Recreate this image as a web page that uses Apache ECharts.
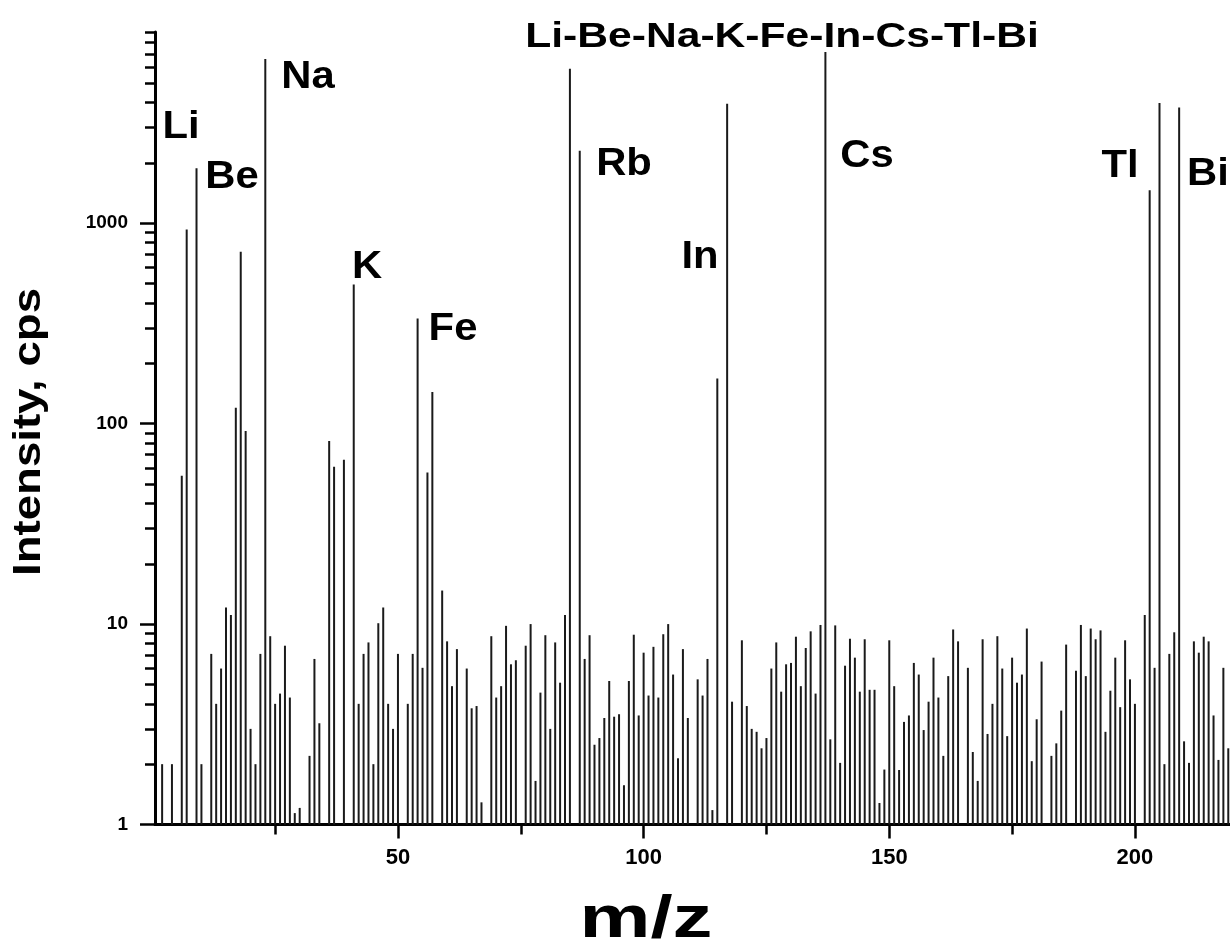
<!DOCTYPE html>
<html><head><meta charset="utf-8">
<script src="https://cdn.jsdelivr.net/npm/echarts@6/dist/echarts.min.js"></script>
<style>html,body{margin:0;padding:0;background:#fff}#c{width:1230px;height:951px}</style>
</head><body><div id="c"></div>
<script>
const mz = [2,4,6,7,9,10,12,13,14,15,16,17,18,19,20,21,22,23,24,25,26,27,28,29,30,32,33,34,36,37,39,41,42,43,44,45,46,47,48,49,50,52,53,54,55,56,57,59,60,61,62,64,65,66,67,69,70,71,72,73,74,76,77,78,79,80,81,82,83,84,85,87,88,89,90,91,92,93,94,95,96,97,98,99,100,101,102,103,104,105,106,107,108,109,111,112,113,114,115,117,118,120,121,122,123,124,125,126,127,128,129,130,131,132,133,134,135,136,137,138,139,140,141,142,143,144,145,146,147,148,149,150,151,152,153,154,155,156,157,158,159,160,161,162,163,164,166,167,168,169,170,171,172,173,174,175,176,177,178,179,180,181,183,184,185,186,188,189,190,191,192,193,194,195,196,197,198,199,200,202,203,204,205,206,207,208,209,210,211,212,213,214,215,216,217,218,219];
const intensity = [2.0,2.0,55,930,1880,2.0,7.1,4.0,6.0,12.1,11.1,120,720,92,3.0,2.0,7.1,6600,8.7,4.0,4.5,7.8,4.3,1.14,1.21,2.2,6.7,3.2,82,61,66,495,4.0,7.1,8.1,2.0,10.1,12.1,4.0,3.0,7.1,4.0,7.1,335,6.05,57,144,14.7,8.2,4.9,7.5,6.0,3.8,3.9,1.29,8.7,4.3,4.9,9.8,6.3,6.6,7.8,10.0,1.65,4.55,8.8,3.0,8.1,5.1,11.1,5900,2300,6.7,8.8,2.5,2.7,3.4,5.2,3.45,3.55,1.57,5.2,8.85,3.5,7.2,4.4,7.7,4.3,8.9,10.0,5.6,2.14,7.5,3.4,5.3,4.4,6.7,1.18,168,3950,4.1,8.3,3.9,3.0,2.9,2.4,2.7,6.0,8.1,4.6,6.3,6.4,8.65,4.9,7.6,9.2,4.5,9.9,7150,2.66,9.85,2.03,6.2,8.45,6.8,4.6,8.4,4.7,4.7,1.28,1.88,8.3,4.9,1.87,3.25,3.5,6.4,5.6,2.96,4.1,6.8,4.3,2.2,5.5,9.4,8.2,6.05,2.3,1.65,8.4,2.83,4.0,8.7,6.0,2.76,6.8,5.1,5.6,9.5,2.07,3.35,6.5,2.2,2.54,3.7,7.9,5.85,9.9,5.5,9.5,8.4,9.3,2.9,4.65,6.8,3.85,8.3,5.3,4.0,11.1,1460,6.05,3980,2.0,7.1,9.1,3780,2.6,2.03,8.2,7.2,8.65,8.2,3.5,2.1,6.05,2.4];
const xMajorTicks = [50,100,150,200];
const xMinorTicks = [25,75,125,175];
const yMajorTicks = [1,10,100,1000];
const yMinorTicks = [2,3,4,5,6,7,8,9,20,30,40,50,60,70,80,90,200,300,400,500,600,700,800,900,2000,3000,4000,5000,6000,7000,8000,9000];
const title = 'Li-Be-Na-K-Fe-In-Cs-Tl-Bi';
const peakLabels = ['Li','Be','Na','K','Fe','Rb','In','Cs','Tl','Bi'];
const xName = 'm/z';
const yName = 'Intensity, cps';

const FONT = '"Liberation Sans", Arial, sans-serif';
const labelPos = [[181,128],[232,178],[308,78],[367,268],[453,330],[624,165],[700,258],[867,157],[1120,167],[1208,175]];

function stretchedText(text, x, y, size, sx, rot){
  return {type:'group', x:x, y:y, rotation:rot||0, children:[
    {type:'text', x:0, y:0, scaleX:sx, style:{text:text, font:'bold '+size+'px '+FONT, fill:'#000', align:'center', verticalAlign:'middle'}}
  ]};
}

const chart = echarts.init(document.getElementById('c'), null, {renderer:'canvas'});
const XMIN = 0.55, XMAX = 219.35, YMIN = 1, YMAX = 9000;
const axisLine = {show:true, lineStyle:{color:'#000', width:3}};
const graphics = [];
graphics.push(stretchedText(title, 782, 37, 35.5, 1.2));
peakLabels.forEach((t,i)=>{ graphics.push(stretchedText(t, labelPos[i][0], labelPos[i][1], 38, 1.1)); });
graphics.push(stretchedText(xName, 646, 920, 60, 1.33));
graphics.push(stretchedText(yName, 30, 432, 38, 1.2, Math.PI/2));

chart.setOption({
  animation:false,
  backgroundColor:'#fff',
  grid:{left:155, right:0, top:32, bottom:126.5, containLabel:false},
  xAxis:[{
    type:'value', min:XMIN, max:XMAX, position:'bottom',
    axisLine: axisLine,
    axisTick:{show:true, customValues:xMajorTicks, length:14, lineStyle:{color:'#000', width:2.5}},
    axisLabel:{show:true, customValues:xMajorTicks, margin:22, fontSize:22, fontWeight:'bold', fontFamily:FONT, color:'#000', formatter:v=>String(v)},
    splitLine:{show:false}
  },{
    type:'value', min:XMIN, max:XMAX, position:'bottom', offset:0,
    axisLine:{show:false},
    axisTick:{show:true, customValues:xMinorTicks, length:10, lineStyle:{color:'#000', width:2.5}},
    axisLabel:{show:false}, splitLine:{show:false}
  }],
  yAxis:[{
    type:'log', logBase:10, min:YMIN, max:YMAX, position:'left',
    axisLine: axisLine,
    axisTick:{show:true, customValues:yMajorTicks, length:15, lineStyle:{color:'#000', width:2.5}},
    axisLabel:{show:true, customValues:yMajorTicks, margin:27, fontSize:19, fontWeight:'bold', fontFamily:FONT, color:'#000', formatter:v=>String(v)},
    splitLine:{show:false}
  },{
    type:'log', logBase:10, min:YMIN, max:YMAX, position:'left', offset:0,
    axisLine:{show:false},
    axisTick:{show:true, customValues:yMinorTicks, length:10, lineStyle:{color:'#000', width:2.5}},
    axisLabel:{show:false}, splitLine:{show:false}
  }],
  series:[{
    type:'bar', xAxisIndex:0, yAxisIndex:0,
    data: mz.map((m,i)=>[m, intensity[i]]),
    barWidth:2,
    itemStyle:{color:'#1a1a1a'},
    emphasis:{disabled:true}
  }],
  graphic: graphics
});
</script></body></html>
